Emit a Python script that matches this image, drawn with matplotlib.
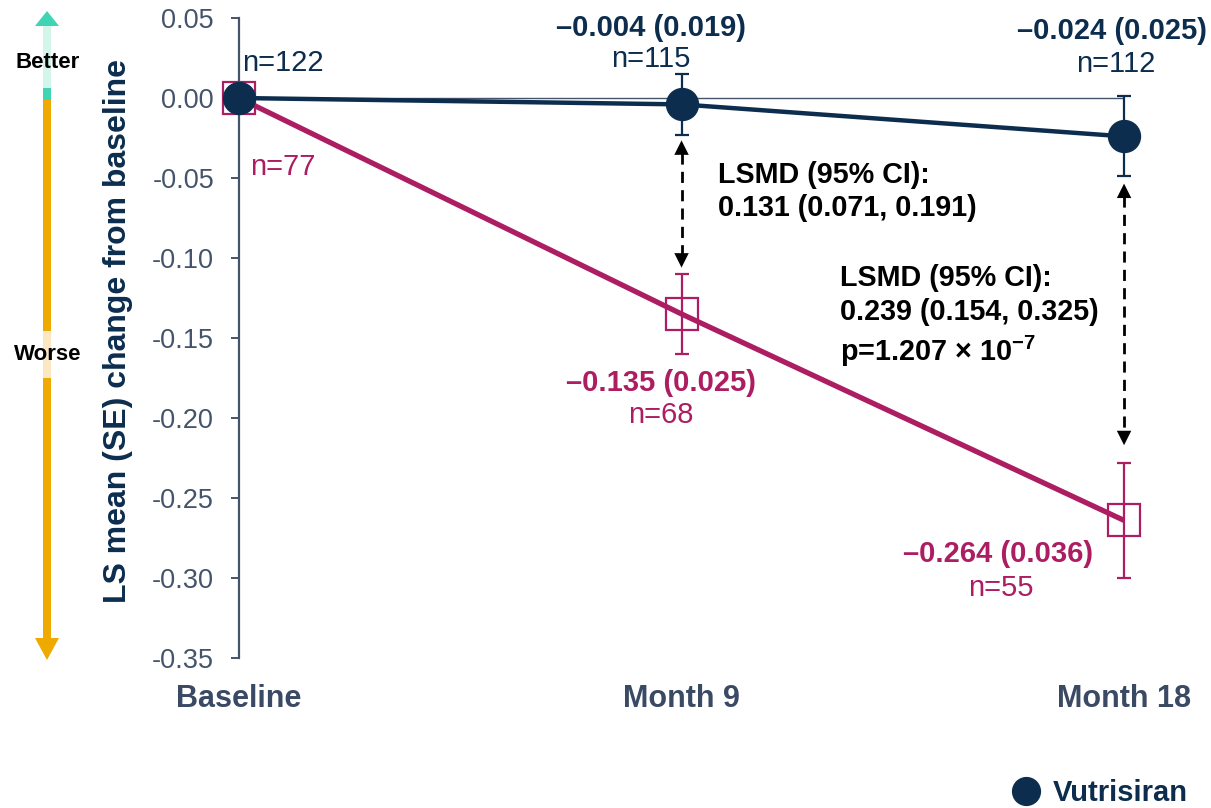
import numpy as np
import matplotlib
matplotlib.use("Agg")
import matplotlib.pyplot as plt
from matplotlib.lines import Line2D
from matplotlib.patches import Polygon, Rectangle

plt.rcParams["font.family"] = ["Liberation Sans", "DejaVu Sans"]
plt.rcParams["mathtext.fontset"] = "custom"
plt.rcParams["mathtext.rm"] = "Liberation Sans"
plt.rcParams["mathtext.bf"] = "Liberation Sans:bold"

# ---- data ----
timepoints = ["Baseline", "Month 9", "Month 18"]
months = [0, 9, 18]

vutrisiran_mean = [0.000, -0.004, -0.024]
vutrisiran_se = [0.0, 0.019, 0.025]
vutrisiran_n = [122, 115, 112]

external_mean = [0.000, -0.135, -0.264]
external_se = [0.0, 0.025, 0.036]
external_n = [77, 68, 55]

lsmd_text = [
    "LSMD (95% CI):\n0.131 (0.071, 0.191)",
    "LSMD (95% CI):\n0.239 (0.154, 0.325)\np=1.207 × 10$^{\\mathbf{−7}}$",
]

yticks = np.round(np.linspace(-0.35, 0.05, 9), 2)

# ---- style ----
NAVY = "#0C2D4E"
MAGENTA = "#AD1D62"
AXIS = "#44546A"
XLAB = "#3A4A64"
TEAL = "#3ED4B4"
TEAL_LIGHT = "#D3F5EC"
ORANGE = "#EEAA00"
ORANGE_LIGHT = "#FBE8C2"

W, H = 1211, 808
fig = plt.figure(figsize=(W / 100, H / 100), dpi=100)

# better / worse direction arrow on the left margin (pixel coordinates)
deco = fig.add_axes([0, 0, 1, 1])
deco.set_xlim(0, W)
deco.set_ylim(H, 0)
deco.axis("off")
cx, half = 47, 4
deco.add_patch(Polygon([(cx, 11), (cx - 12, 26), (cx + 12, 26)], closed=True, color=TEAL, lw=0))
deco.add_patch(Rectangle((cx - half, 26), 2 * half, 62, color=TEAL_LIGHT, lw=0))
deco.add_patch(Rectangle((cx - half, 88), 2 * half, 12, color=TEAL, lw=0))
deco.add_patch(Rectangle((cx - half, 100), 2 * half, 540, color=ORANGE, lw=0))
deco.add_patch(Rectangle((cx - half, 331), 2 * half, 47, color=ORANGE_LIGHT, lw=0))
deco.add_patch(Polygon([(cx - 12, 638), (cx + 12, 638), (cx, 660)], closed=True, color=ORANGE, lw=0))
deco.text(cx + 1, 62, "Better", ha="center", va="center", fontsize=16, fontweight="bold", color="black")
deco.text(cx + 1, 354, "Worse", ha="center", va="center", fontsize=16, fontweight="bold", color="black")

# main axes
x_lo, x_hi = 0, 19
px_per_unit = 49.17
ax = fig.add_axes([239 / W, 1 - 658 / H, (x_hi - x_lo) * px_per_unit / W, 640 / H])
ax.set_xlim(x_lo, x_hi)
ax.set_ylim(yticks[0], yticks[-1])

for side in ("top", "right", "bottom"):
    ax.spines[side].set_visible(False)
ax.spines["left"].set_color(AXIS)
ax.spines["left"].set_linewidth(1.6)

ax.set_yticks(yticks)
ax.set_yticklabels([f"{round(v, 2) + 0.0:.2f}" for v in yticks])
ax.tick_params(axis="y", direction="out", length=6, width=1.4, color=AXIS,
               labelsize=19.5, labelcolor=AXIS, pad=12)
ax.set_xticks(months)
ax.set_xticklabels(timepoints, fontsize=22, fontweight="bold", color=XLAB)
ax.tick_params(axis="x", length=0, pad=19)

ax.set_ylabel("LS mean (SE) change from baseline", fontsize=23, fontweight="bold",
              color=NAVY)
ax.yaxis.set_label_coords(-0.113, 0.511)

# zero reference line
ax.hlines(0, months[0], months[-1], color=AXIS, lw=1.0, zorder=1)

# external comparator series: open squares
ax.errorbar(months[1:], external_mean[1:], yerr=external_se[1:], fmt="none",
            ecolor=MAGENTA, elinewidth=1.6, capsize=5, capthick=1.6, zorder=2)
ax.plot(months, external_mean, ls="none", marker="s", ms=23, mfc="none",
        mec=MAGENTA, mew=1.6, zorder=3, clip_on=False)
ax.plot(months, external_mean, color=MAGENTA, lw=3.8, zorder=4, solid_capstyle="butt")

# vutrisiran series: filled circles
ax.errorbar(months[1:], vutrisiran_mean[1:], yerr=vutrisiran_se[1:], fmt="none",
            ecolor=NAVY, elinewidth=1.6, capsize=5, capthick=1.6, zorder=5)
ax.plot(months, vutrisiran_mean, color=NAVY, lw=3.2, marker="o", ms=23,
        mfc=NAVY, mec=NAVY, zorder=6, clip_on=False)


def fmt_val(m, s):
    sign = "–" if m < 0 else ""
    return f"{sign}{abs(m):.3f} ({s:.3f})"


VAL_FS = 21
N_FS = 21

# point labels
ax.annotate(f"n={vutrisiran_n[0]}", (months[0], vutrisiran_mean[0]), xytext=(2, 25),
            textcoords="offset points", ha="left", va="center", fontsize=N_FS, color=NAVY)
ax.annotate(f"n={external_n[0]}", (months[0], external_mean[0]), xytext=(8, -50),
            textcoords="offset points", ha="left", va="center", fontsize=N_FS, color=MAGENTA)

v_offsets = [None, (-22, 55), (-9, 76)]
vn_offsets = [None, (-22, 33), (-6, 52)]
for i in (1, 2):
    ax.annotate(fmt_val(vutrisiran_mean[i], vutrisiran_se[i]), (months[i], vutrisiran_mean[i]),
                xytext=v_offsets[i], textcoords="offset points", ha="center", va="center",
                fontsize=VAL_FS, fontweight="bold", color=NAVY)
    ax.annotate(f"n={vutrisiran_n[i]}", (months[i], vutrisiran_mean[i]),
                xytext=vn_offsets[i], textcoords="offset points", ha="center", va="center",
                fontsize=N_FS, color=NAVY)

e_offsets = [None, (-15, -50), (-91, -24)]
en_offsets = [None, (-15, -73), (-89, -49)]
for i in (1, 2):
    ax.annotate(fmt_val(external_mean[i], external_se[i]), (months[i], external_mean[i]),
                xytext=e_offsets[i], textcoords="offset points", ha="center", va="center",
                fontsize=VAL_FS, fontweight="bold", color=MAGENTA)
    ax.annotate(f"n={external_n[i]}", (months[i], external_mean[i]),
                xytext=en_offsets[i], textcoords="offset points", ha="center", va="center",
                fontsize=N_FS, color=MAGENTA)

# dashed double-headed difference arrows
gaps = [(0.0035, 0.004), (0.0045, 0.011)]
for i, (g_top, g_bot) in zip((1, 2), gaps):
    y_top = vutrisiran_mean[i] - vutrisiran_se[i] - g_top
    y_bot = external_mean[i] + external_se[i] + g_bot
    ax.annotate("", xy=(months[i], y_top), xytext=(months[i], y_bot),
                arrowprops=dict(arrowstyle="<|-|>", color="black", lw=0,
                                mutation_scale=26, shrinkA=0, shrinkB=0), zorder=7)
    head = 0.008
    ax.plot([months[i], months[i]], [y_top - head, y_bot + head], color="black",
            lw=2.0, ls=(0, (4, 2.6)), zorder=7)

ax.text(9.74, -0.0585, lsmd_text[0], ha="left", va="center", fontsize=20.7,
        fontweight="bold", color="black", linespacing=1.2)
ax.text(12.22, -0.1365, lsmd_text[1], ha="left", va="center", fontsize=20.7,
        fontweight="bold", color="black", linespacing=1.27)

# legend
handles = [Line2D([], [], ls="none", marker="o", ms=20, mfc=NAVY, mec=NAVY)]
fig.legend(handles, ["Vutrisiran"], loc="center left", bbox_to_anchor=(1011 / W, 1 - 793 / H),
           frameon=False, prop={"size": 21, "weight": "bold"}, labelcolor=NAVY,
           handlelength=1.0, handletextpad=0.45, borderpad=0, borderaxespad=0)

fig.savefig("out.png", dpi=100)
